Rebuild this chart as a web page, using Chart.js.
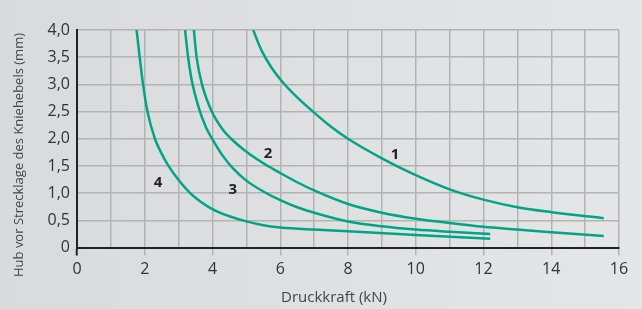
<!DOCTYPE html>
<html>
<head>
<meta charset="UTF-8">
<title>Hub vor Strecklage</title>
<script src="https://cdn.jsdelivr.net/npm/chart.js"></script>
<style>
    body { margin: 0; background: linear-gradient(to right, #d9dadc, #e5e6e8); }
    canvas { display: block; }
</style>
</head>
<body>
<canvas id="hubChart" width="642" height="309"></canvas>
<script>
    // Kennlinien 1..4 (Druckkraft kN -> Hub mm)
    const curve1X = [5.2, 5.45, 5.75, 6.1, 6.5, 7.0, 7.5, 8.0, 9.0, 10.0, 11.0, 12.0, 13.0, 14.0, 15.55];
    const curve1Y = [4.0, 3.62, 3.3, 3.02, 2.76, 2.48, 2.22, 2.0, 1.64, 1.33, 1.07, 0.88, 0.74, 0.65, 0.54];
    const curve2X = [3.45, 3.53, 3.69, 3.98, 4.3, 4.55, 5.0, 5.5, 6.0, 6.5, 7.0, 8.0, 9.0, 10.0, 11.0, 12.0, 13.0, 14.0, 15.55];
    const curve2Y = [4.0, 3.5, 3.0, 2.5, 2.17, 2.0, 1.76, 1.55, 1.37, 1.2, 1.05, 0.8, 0.64, 0.53, 0.45, 0.38, 0.33, 0.28, 0.21];
    const curve3X = [3.19, 3.27, 3.38, 3.58, 3.8, 4.0, 4.3, 4.6, 5.0, 5.5, 6.0, 6.5, 7.0, 8.0, 9.0, 10.0, 11.0, 12.2];
    const curve3Y = [4.0, 3.55, 3.1, 2.6, 2.22, 1.99, 1.69, 1.46, 1.23, 1.03, 0.87, 0.74, 0.64, 0.48, 0.39, 0.33, 0.29, 0.25];
    const curve4X = [1.76, 1.85, 1.95, 2.08, 2.3, 2.48, 2.7, 3.0, 3.34, 3.65, 3.93, 4.2, 4.52, 5.0, 5.5, 6.0, 7.0, 8.0, 10.0, 12.2];
    const curve4Y = [4.0, 3.5, 3.0, 2.5, 2.0, 1.75, 1.5, 1.24, 1.0, 0.84, 0.73, 0.645, 0.57, 0.48, 0.41, 0.37, 0.33, 0.3, 0.23, 0.16];

    // Kurvennummern: Name, x, y
    const curveNames = ['1', '2', '3', '4'];
    const labelX = [9.39, 5.64, 4.6, 2.39];
    const labelY = [1.7, 1.72, 1.06, 1.19];

    const xTitle = 'Druckkraft (kN)';
    const yTitle = 'Hub vor Strecklage des Kniehebels (mm)';

    const green = '#00a585';
    const fontFamily = '"Open Sans", "Noto Sans", sans-serif';

    function toPoints(xs, ys) {
        return xs.map((x, i) => ({ x: x, y: ys[i] }));
    }

    function makeSet(xs, ys) {
        return {
            data: toPoints(xs, ys),
            showLine: true,
            borderColor: green,
            borderWidth: 2.5,
            pointRadius: 0,
            fill: false,
            cubicInterpolationMode: 'monotone'
        };
    }

    const textPlugin = {
        id: 'textPlugin',
        afterDraw(chart) {
            const ctx = chart.ctx;
            const xs = chart.scales.x;
            const ys = chart.scales.y;
            ctx.save();
            ctx.fillStyle = '#222';
            ctx.font = 'bold 15px ' + fontFamily;
            ctx.textAlign = 'center';
            ctx.textBaseline = 'middle';
            curveNames.forEach((n, i) => {
                ctx.fillText(n, xs.getPixelForValue(labelX[i]), ys.getPixelForValue(labelY[i]));
            });

            ctx.fillStyle = '#444';
            ctx.font = '15px ' + fontFamily;
            ctx.fillText(xTitle, 334, 298);

            ctx.font = '13px ' + fontFamily;
            ctx.translate(19, 155);
            ctx.rotate(-Math.PI / 2);
            ctx.fillText(yTitle, 0, 0);
            ctx.restore();
        }
    };

    new Chart(document.getElementById('hubChart').getContext('2d'), {
        type: 'scatter',
        data: {
            datasets: [
                makeSet(curve1X, curve1Y),
                makeSet(curve2X, curve2Y),
                makeSet(curve3X, curve3Y),
                makeSet(curve4X, curve4Y)
            ]
        },
        options: {
            responsive: false,
            animation: false,
            layout: { padding: { top: 30, right: 23, left: 0, bottom: 0 } },
            plugins: {
                legend: { display: false },
                tooltip: { enabled: false }
            },
            scales: {
                x: {
                    type: 'linear',
                    min: 0,
                    max: 16,
                    afterFit: scale => { scale.height = 61.5; },
                    border: { color: '#222', width: 2 },
                    grid: {
                        color: '#b3b3b3',
                        lineWidth: 1.5,
                        tickLength: 8,
                        tickColor: c => {
                            const v = c.tick ? c.tick.value : 1;
                            if (v === 0) return '#222';
                            return v % 2 === 0 ? '#b3b3b3' : 'rgba(0,0,0,0)';
                        },
                        tickWidth: c => (c.tick && c.tick.value === 0 ? 2 : 1.5)
                    },
                    ticks: {
                        stepSize: 1,
                        autoSkip: false,
                        maxRotation: 0,
                        padding: 4,
                        color: '#333',
                        font: { family: fontFamily, size: 16 },
                        callback: v => (v % 2 === 0 ? String(v) : '')
                    }
                },
                y: {
                    type: 'linear',
                    min: 0,
                    max: 4,
                    afterFit: scale => { scale.width = 77; },
                    border: { color: '#222', width: 2 },
                    grid: {
                        color: '#b3b3b3',
                        lineWidth: 1.5,
                        drawTicks: false
                    },
                    ticks: {
                        stepSize: 0.5,
                        padding: 7,
                        color: '#333',
                        font: { family: fontFamily, size: 16 },
                        callback: v => (v === 0 ? '0' : v.toFixed(1).replace('.', ','))
                    }
                }
            }
        },
        plugins: [textPlugin]
    });
</script>
</body>
</html>
